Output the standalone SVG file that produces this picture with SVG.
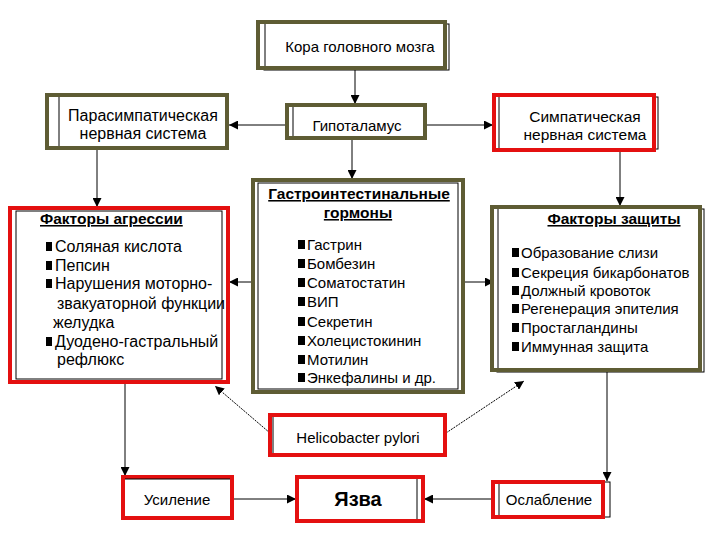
<svg xmlns="http://www.w3.org/2000/svg" width="720" height="540" viewBox="0 0 720 540">
<style>
text{font-family:"Liberation Sans",Arial,sans-serif;fill:#000;}
.t{font-size:15px;}
.t16{font-size:16px;}
.c{text-anchor:middle;}
.h{font-size:15.5px;font-weight:bold;text-decoration:underline;}
.olive{fill:#fff;stroke:#5e5c34;stroke-width:4;}
.red{fill:#fff;stroke:#e41010;stroke-width:4;}
.thin{fill:none;stroke:#000;stroke-width:1;}
.ln{fill:none;stroke:#000;stroke-width:1;}
.dl{fill:none;stroke:#000;stroke-width:1;stroke-dasharray:2,1;}
.b{fill:#000;}
</style>
<defs>
<marker id="ah" viewBox="0 0 10 10" refX="10" refY="5" markerWidth="9" markerHeight="9" markerUnits="userSpaceOnUse" orient="auto">
<path d="M0,0 L10,5 L0,10 z" fill="#000"/>
</marker>
</defs>
<rect width="720" height="540" fill="#fff"/>

<g id="connectors">
<line class="ln" x1="355" y1="70" x2="355" y2="104" marker-end="url(#ah)"/>
<line class="ln" x1="287" y1="125" x2="229" y2="125" marker-end="url(#ah)"/>
<line class="ln" x1="425" y1="125" x2="493" y2="125" marker-end="url(#ah)"/>
<line class="ln" x1="352" y1="138" x2="352" y2="179" marker-end="url(#ah)"/>
<line class="ln" x1="97" y1="148" x2="97" y2="207" marker-end="url(#ah)"/>
<line class="ln" x1="620" y1="150" x2="620" y2="206" marker-end="url(#ah)"/>
<line class="ln" x1="258" y1="282" x2="229" y2="282" marker-end="url(#ah)"/>
<line class="ln" x1="458" y1="282" x2="494" y2="282" marker-end="url(#ah)"/>
<line class="dl" x1="270" y1="433" x2="215" y2="386" marker-end="url(#ah)"/>
<line class="dl" x1="446" y1="433" x2="524" y2="381" marker-end="url(#ah)"/>
<line class="ln" x1="125" y1="382" x2="125" y2="476" marker-end="url(#ah)"/>
<line class="ln" x1="607" y1="370" x2="607" y2="481" marker-end="url(#ah)"/>
<line class="ln" x1="232" y1="499" x2="296" y2="499" marker-end="url(#ah)"/>
<line class="ln" x1="493" y1="499" x2="424" y2="499" marker-end="url(#ah)"/>
</g>

<g id="kora">
<rect class="thin" x="264" y="24" width="185" height="46"/>
<rect class="olive" x="258" y="22" width="187" height="46"/>
<line class="ln" x1="265" y1="24" x2="265" y2="66"/>
<text class="t c" x="360" y="52">Кора головного мозга</text>
</g>

<g id="parasympathetic">
<rect class="olive" x="47" y="95" width="180" height="53"/>
<line class="ln" x1="59" y1="97" x2="59" y2="146"/>
<text class="t16 c" x="143" y="121">Парасимпатическая</text>
<text class="t16 c" x="143" y="139">нервная система</text>
</g>

<g id="hypothalamus">
<rect class="olive" x="287" y="105" width="138" height="33"/>
<line class="ln" x1="293" y1="107" x2="293" y2="136"/>
<text class="t c" x="357" y="131">Гипоталамус</text>
</g>

<g id="sympathetic">
<rect class="thin" x="499" y="97" width="159" height="52"/>
<rect class="red" x="494" y="95" width="160" height="55"/>
<line class="ln" x1="499" y1="97" x2="499" y2="148"/>
<text class="c" x="585" y="122" style="font-size:15.5px">Симпатическая</text>
<text class="c" x="585" y="140" style="font-size:15.5px">нервная система</text>
</g>

<g id="aggression">
<rect class="red" x="10" y="208" width="218" height="174"/>
<rect class="thin" x="16" y="211" width="206" height="168"/>
<text class="h" x="40" y="224">Факторы агрессии</text>
<rect class="b" x="46" y="242" width="6" height="9"/>
<rect class="b" x="46" y="261" width="6" height="9"/>
<rect class="b" x="46" y="279" width="6" height="9"/>
<rect class="b" x="46" y="337" width="6" height="9"/>
<text class="t16" x="55" y="252">Соляная кислота</text>
<text class="t16" x="55" y="271">Пепсин</text>
<text class="t16" x="55" y="289">Нарушения моторно-</text>
<text class="t16" x="57" y="309">звакуаторной функции</text>
<text class="t16" x="53" y="328">желудка</text>
<text class="t16" x="55" y="347">Дуодено-гастральный</text>
<text class="t16" x="57" y="365">рефлюкс</text>
</g>

<g id="hormones">
<rect class="olive" x="253" y="180" width="210" height="212"/>
<rect class="thin" x="258" y="183" width="200" height="206"/>
<text class="h c" x="359" y="199">Гастроинтестинальные</text>
<text class="h c" x="358" y="218">гормоны</text>
<rect class="b" x="298" y="240" width="7" height="9"/>
<rect class="b" x="298" y="259" width="7" height="9"/>
<rect class="b" x="298" y="278" width="7" height="9"/>
<rect class="b" x="298" y="297" width="7" height="9"/>
<rect class="b" x="298" y="317" width="7" height="9"/>
<rect class="b" x="298" y="336" width="7" height="9"/>
<rect class="b" x="298" y="355" width="7" height="9"/>
<rect class="b" x="298" y="373" width="7" height="9"/>
<text class="t" x="307" y="250">Гастрин</text>
<text class="t" x="307" y="269">Бомбезин</text>
<text class="t" x="307" y="288">Соматостатин</text>
<text class="t" x="307" y="307">ВИП</text>
<text class="t" x="307" y="327">Секретин</text>
<text class="t" x="307" y="346">Холецистокинин</text>
<text class="t" x="307" y="365">Мотилин</text>
<text class="t" x="307" y="383">Энкефалины и др.</text>
</g>

<g id="defense">
<rect class="thin" x="497" y="209" width="207" height="163"/>
<rect class="olive" x="492" y="207" width="208" height="163"/>
<line class="ln" x1="498" y1="209" x2="498" y2="368"/>
<text class="h c" x="614" y="224">Факторы защиты</text>
<rect class="b" x="512" y="248" width="7" height="9"/>
<rect class="b" x="512" y="268" width="7" height="9"/>
<rect class="b" x="512" y="286" width="7" height="9"/>
<rect class="b" x="512" y="304" width="7" height="9"/>
<rect class="b" x="512" y="323" width="7" height="9"/>
<rect class="b" x="512" y="342" width="7" height="9"/>
<text class="t" x="521" y="258">Образование слизи</text>
<text class="t" x="521" y="278">Секреция бикарбонатов</text>
<text class="t" x="521" y="296">Должный кровоток</text>
<text class="t" x="521" y="314">Регенерация эпителия</text>
<text class="t" x="521" y="333">Простагландины</text>
<text class="t" x="521" y="352">Иммунная защита</text>
</g>

<g id="helicobacter">
<rect class="red" x="270" y="415" width="175" height="40"/>
<line class="ln" x1="273" y1="417" x2="273" y2="453"/>
<text class="t c" x="358" y="443">Helicobacter pylori</text>
</g>

<g id="usilenie">
<rect class="red" x="123" y="477" width="109" height="41"/>
<line class="ln" x1="125" y1="479" x2="230" y2="479"/>
<text class="t c" x="177" y="505">Усиление</text>
</g>

<g id="yazva">
<rect class="red" x="297" y="477" width="126" height="44"/>
<line class="ln" x1="417" y1="479" x2="417" y2="519"/>
<text class="c" x="358" y="506" style="font-size:20px;font-weight:bold">Язва</text>
</g>

<g id="oslablenie">
<rect class="thin" x="493" y="482" width="117" height="35"/>
<rect class="red" x="493" y="482" width="110" height="35"/>
<line class="ln" x1="499" y1="484" x2="499" y2="515"/>
<text class="t c" x="549" y="505">Ослабление</text>
</g>
</svg>
